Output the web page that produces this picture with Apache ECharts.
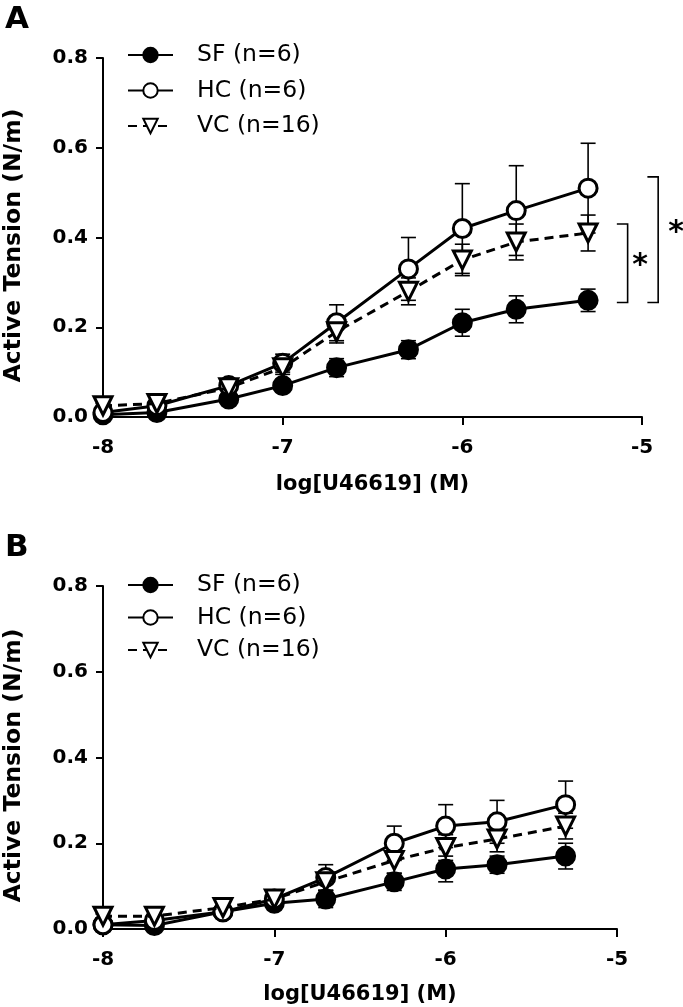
<!DOCTYPE html>
<html><head><meta charset="utf-8">
<script src="https://cdn.jsdelivr.net/npm/echarts@6/dist/echarts.min.js"></script>
<style>html,body{margin:0;padding:0;background:#fff}#c{width:683px;height:1007px}</style>
</head><body><div id="c"></div>
<script>
// log[U46619] (M)
const logDose = [-8, -7.7, -7.3, -7, -6.7, -6.3, -6, -5.7, -5.3];
const seriesNames = ['SF (n=6)', 'HC (n=6)', 'VC (n=16)'];
const xTicks = [-8, -7, -6, -5];
const yTicks = [0, 0.2, 0.4, 0.6, 0.8];

// Panel A
const A_SF = [0.005, 0.01, 0.04, 0.07, 0.11, 0.15, 0.21, 0.24, 0.26];
const A_SF_err = [0.005, 0.005, 0.01, 0.01, 0.02, 0.02, 0.03, 0.03, 0.025];
const A_HC = [0.01, 0.025, 0.07, 0.12, 0.21, 0.33, 0.42, 0.46, 0.51];
const A_HC_err = [0.005, 0.01, 0.01, 0.02, 0.04, 0.07, 0.10, 0.10, 0.10];
const A_VC = [0.025, 0.03, 0.065, 0.11, 0.19, 0.28, 0.35, 0.39, 0.41];
const A_VC_err = [0.005, 0.005, 0.01, 0.015, 0.025, 0.03, 0.035, 0.04, 0.04];

// Panel B
const B_SF = [0.01, 0.008, 0.04, 0.06, 0.07, 0.11, 0.14, 0.15, 0.17];
const B_SF_err = [0.005, 0.005, 0.01, 0.01, 0.02, 0.02, 0.03, 0.02, 0.03];
const B_HC = [0.01, 0.02, 0.04, 0.07, 0.12, 0.20, 0.24, 0.25, 0.29];
const B_HC_err = [0.005, 0.005, 0.01, 0.01, 0.03, 0.04, 0.05, 0.05, 0.055];
const B_VC = [0.03, 0.03, 0.05, 0.07, 0.11, 0.16, 0.19, 0.21, 0.24];
const B_VC_err = [0.005, 0.005, 0.01, 0.01, 0.02, 0.03, 0.03, 0.03, 0.03];

// Significance brackets in panel A (data coordinates): [xLeft, xRight, yTop, yBottom]
const A_brackets = [[-5.14, -5.08, 0.43, 0.255], [-4.97, -4.91, 0.535, 0.255]];
// Asterisks [x, y]
const A_stars = [[-5.01, 0.335], [-4.81, 0.41]];

const FONT = 'DejaVu Sans, Liberation Sans, sans-serif';
const chart = echarts.init(document.getElementById('c'), null, {renderer: 'canvas'});

const styles = [
  {symbol: 'circle', fill: '#000', dash: 'solid'},
  {symbol: 'circle', fill: '#fff', dash: 'solid'},
  {symbol: 'triangle', fill: '#fff', dash: [9, 6], rotate: 180}
];

function lineSeries(i, vals, axis) {
  const s = styles[i];
  return {
    type: 'line', name: seriesNames[i], xAxisIndex: axis, yAxisIndex: axis,
    data: logDose.map((x, k) => [x, vals[k]]),
    symbol: s.symbol, symbolSize: 18,
    symbolRotate: s.rotate || 0,
    showAllSymbol: true, z: 5 + i, animation: false,
    lineStyle: {color: '#000', width: 3, type: s.dash},
    itemStyle: {color: s.fill, borderColor: '#000', borderWidth: 3}
  };
}

function errSeries(vals, errs, axis) {
  return {
    type: 'custom', xAxisIndex: axis, yAxisIndex: axis, z: 2, animation: false,
    silent: true, legendHoverLink: false,
    data: logDose.map((x, k) => [x, vals[k] - errs[k], vals[k] + errs[k]]),
    encode: {x: 0, y: [1, 2]},
    renderItem: function (params, api) {
      const x = api.value(0);
      const lo = api.coord([x, api.value(1)]);
      const hi = api.coord([x, api.value(2)]);
      const w = 7.5;
      const st = {stroke: '#000', lineWidth: 1.6};
      return {type: 'group', children: [
        {type: 'line', shape: {x1: hi[0], y1: hi[1], x2: lo[0], y2: lo[1]}, style: st},
        {type: 'line', shape: {x1: hi[0] - w, y1: hi[1], x2: hi[0] + w, y2: hi[1]}, style: st},
        {type: 'line', shape: {x1: lo[0] - w, y1: lo[1], x2: lo[0] + w, y2: lo[1]}, style: st}
      ]};
    }
  };
}

function xAxis(gridIndex, gap) {
  return {
    type: 'value', gridIndex: gridIndex, min: -8, max: -5, interval: 1,
    name: 'log[U46619] (M)', nameLocation: 'middle', nameGap: gap,
    nameTextStyle: {fontFamily: FONT, fontWeight: 'bold', fontSize: 21, color: '#000'},
    axisLine: {lineStyle: {color: '#000', width: 2}},
    axisTick: {show: true, length: 8, lineStyle: {color: '#000', width: 2}},
    axisLabel: {fontFamily: FONT, fontWeight: 'bold', fontSize: 20, color: '#000', margin: 21,
      formatter: v => xTicks.includes(v) ? String(v) : ''},
    splitLine: {show: false}
  };
}
function yAxis(gridIndex) {
  return {
    type: 'value', gridIndex: gridIndex, min: 0, max: 0.8, interval: 0.2,
    name: 'Active Tension (N/m)', nameLocation: 'middle', nameGap: 77, nameRotate: 90,
    nameTextStyle: {fontFamily: FONT, fontWeight: 'bold', fontSize: 23.5, color: '#000', padding: [0, 16, 0, 0]},
    axisLine: {show: true, lineStyle: {color: '#000', width: 2}},
    axisTick: {show: true, length: 7, lineStyle: {color: '#000', width: 2}},
    axisLabel: {fontFamily: FONT, fontWeight: 'bold', fontSize: 20, color: '#000', margin: 15,
      formatter: v => yTicks.some(t => Math.abs(t - v) < 1e-9) ? v.toFixed(1) : ''},
    splitLine: {show: false}
  };
}

function legend(top, gap) {
  return {
    data: seriesNames, orient: 'vertical', left: 122, top: top,
    itemWidth: 45, itemHeight: 18, itemGap: gap,
    textStyle: {fontFamily: FONT, fontSize: 23.5, color: '#000', padding: [0, 0, 0, 19]},
    selectedMode: false, symbolRotate: 'inherit'
  };
}

const option = {
  backgroundColor: '#fff',
  animation: false,
  title: [
    {text: 'A', left: 5, top: 4, padding: 0, textStyle: {fontFamily: FONT, fontWeight: 'bold', fontSize: 31, color: '#000'}},
    {text: 'B', left: 5, top: 532, padding: 0, textStyle: {fontFamily: FONT, fontWeight: 'bold', fontSize: 31, color: '#000'}}
  ],
  legend: [legend(38, 11.5), legend(568, 8.5)],
  grid: [
    {left: 103, top: 58, width: 539, height: 359, containLabel: false, outerBoundsMode: 'none'},
    {left: 103, top: 586, width: 514, height: 343, containLabel: false, outerBoundsMode: 'none'}
  ],
  xAxis: [xAxis(0, 57), xAxis(1, 55)],
  yAxis: [yAxis(0), yAxis(1)],
  series: [
    errSeries(A_SF, A_SF_err, 0), errSeries(A_HC, A_HC_err, 0), errSeries(A_VC, A_VC_err, 0),
    lineSeries(0, A_SF, 0), lineSeries(1, A_HC, 0), lineSeries(2, A_VC, 0),
    errSeries(B_SF, B_SF_err, 1), errSeries(B_HC, B_HC_err, 1), errSeries(B_VC, B_VC_err, 1),
    lineSeries(0, B_SF, 1), lineSeries(1, B_HC, 1), lineSeries(2, B_VC, 1),
    {
      type: 'custom', xAxisIndex: 0, yAxisIndex: 0, clip: false, silent: true, z: 3,
      data: A_brackets, encode: {x: [0, 1], y: [2, 3]},
      renderItem: function (params, api) {
        const a = api.coord([api.value(0), api.value(2)]);
        const b = api.coord([api.value(1), api.value(3)]);
        return {type: 'polyline', shape: {points: [[a[0], a[1]], [b[0], a[1]], [b[0], b[1]], [a[0], b[1]]]},
          style: {stroke: '#000', lineWidth: 1.6, fill: null}};
      }
    },
    {
      type: 'custom', xAxisIndex: 0, yAxisIndex: 0, clip: false, silent: true, z: 3,
      data: A_stars, encode: {x: 0, y: 1},
      renderItem: function (params, api) {
        const p = api.coord([api.value(0), api.value(1)]);
        return {type: 'text', x: p[0], y: p[1],
          style: {text: '*', fontFamily: FONT, fontWeight: 'bold', fontSize: 30, fill: '#000',
            align: 'center', verticalAlign: 'middle'}};
      }
    }
  ]
};
chart.setOption(option);
</script></body></html>
